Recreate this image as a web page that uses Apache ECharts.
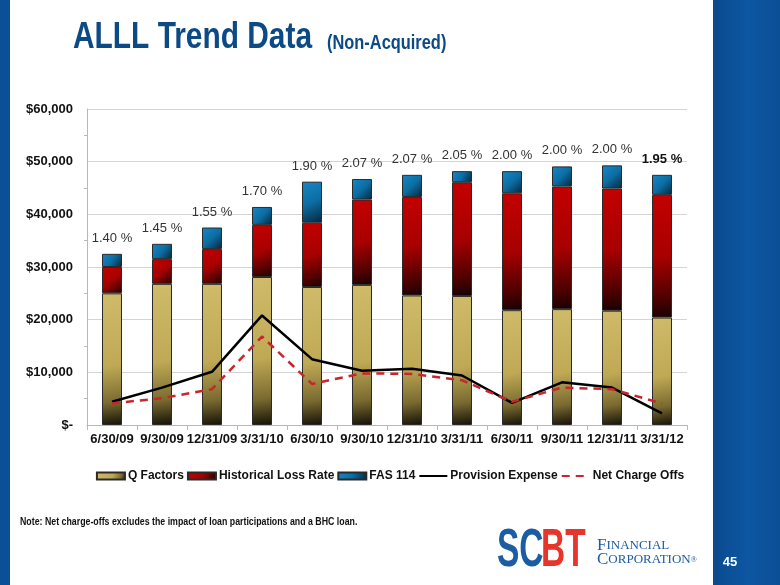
<!DOCTYPE html>
<html>
<head>
<meta charset="utf-8">
<script src="https://cdn.jsdelivr.net/npm/echarts@6/dist/echarts.min.js"></script>
<style>
html,body{margin:0;padding:0;background:#fff;}
#chart{width:780px;height:585px;}
</style>
</head>
<body>
<div id="chart"></div>
<script>
const categories = ['6/30/09','9/30/09','12/31/09','3/31/10','6/30/10','9/30/10','12/31/10','3/31/11','6/30/11','9/30/11','12/31/11','3/31/12'];
const qFactors = [25000, 26800, 26800, 28100, 26200, 26600, 24600, 24500, 21800, 22000, 21700, 20400];
const historicalLossRate = [5000, 4700, 6600, 9900, 12200, 16200, 18700, 21600, 22200, 23300, 23200, 23300];
const fas114 = [2500, 2900, 4100, 3400, 7800, 3900, 4200, 2100, 4200, 3800, 4400, 3800];
const provisionExpense = [4400, 7100, 10100, 20800, 12500, 10300, 10700, 9400, 4200, 8100, 7100, 2200];
const netChargeOffs = [4100, 5100, 6800, 16800, 7800, 9800, 9700, 8500, 4400, 7100, 6800, 4100];
const pctLabels = ['1.40 %','1.45 %','1.55 %','1.70 %','1.90 %','2.07 %','2.07 %','2.05 %','2.00 %','2.00 %','2.00 %','1.95 %'];
const yTickLabels = ['$-','$10,000','$20,000','$30,000','$40,000','$50,000','$60,000'];

const FONT = "'Liberation Sans', Arial, Helvetica, sans-serif";
const chart = echarts.init(document.getElementById('chart'), null, {renderer: 'canvas'});

function grad(stops) {
  return new echarts.graphic.LinearGradient(0, 0, 1, 1, stops.map((c) => ({offset: c[0], color: c[1]})));
}
const goldFill = grad([[0, '#cfbb6a'], [0.55, '#bfa955'], [0.82, '#7a6a30'], [1, '#141006']]);
const redFill = grad([[0, '#c40000'], [0.5, '#a80000'], [0.85, '#4a0000'], [1, '#160000']]);
const blueFill = grad([[0, '#1588c8'], [0.5, '#0d6da3'], [1, '#04263c']]);

const fasData = fas114.map((v, i) => ({
  value: v,
  label: {
    show: true,
    position: 'top',
    distance: 9,
    formatter: pctLabels[i],
    fontFamily: FONT,
    fontSize: 13,
    fontWeight: i === fas114.length - 1 ? 'bold' : 'normal',
    color: i === fas114.length - 1 ? '#111' : '#333'
  }
}));

const option = {
  backgroundColor: '#ffffff',
  animation: false,
  grid: {left: 87, right: 93, top: 109, bottom: 160},
  legend: {
    top: 465,
    left: 'center',
    itemWidth: 28,
    itemHeight: 7,
    itemGap: 3,
    textStyle: {fontFamily: FONT, fontSize: 12, fontWeight: 'bold', color: '#111', padding: [0, 0, 0, -2]},
    data: [
      {name: 'Q Factors', icon: 'rect'},
      {name: 'Historical Loss Rate', icon: 'rect'},
      {name: 'FAS 114', icon: 'rect'},
      {name: 'Provision Expense', itemStyle: {opacity: 0}},
      {name: 'Net Charge Offs', itemStyle: {opacity: 0}}
    ]
  },
  xAxis: {
    type: 'category',
    data: categories,
    boundaryGap: true,
    axisLine: {lineStyle: {color: '#b8b8b8', width: 1}},
    axisTick: {show: true, length: 5, lineStyle: {color: '#b8b8b8'}},
    axisLabel: {fontFamily: FONT, fontSize: 13, fontWeight: 'bold', color: '#111', margin: 8, interval: 0}
  },
  yAxis: {
    type: 'value',
    min: 0,
    max: 60000,
    interval: 10000,
    axisLine: {show: true, lineStyle: {color: '#b8b8b8', width: 1}},
    axisTick: {show: false},
    minorTick: {show: true, splitNumber: 2, length: 3, lineStyle: {color: '#b8b8b8'}},
    splitLine: {lineStyle: {color: '#d4d4d4', width: 1}},
    axisLabel: {
      fontFamily: FONT, fontSize: 13, fontWeight: 'bold', color: '#111', margin: 14,
      formatter: function (v) { return yTickLabels[Math.round(v / 10000)]; }
    }
  },
  series: [
    {
      name: 'Q Factors', type: 'bar', stack: 'alll', barWidth: 20,
      itemStyle: {color: goldFill, borderColor: '#2a2a2a', borderWidth: 1},
      data: qFactors
    },
    {
      name: 'Historical Loss Rate', type: 'bar', stack: 'alll', barWidth: 20,
      itemStyle: {color: redFill, borderColor: '#2a2a2a', borderWidth: 1},
      data: historicalLossRate
    },
    {
      name: 'FAS 114', type: 'bar', stack: 'alll', barWidth: 20,
      itemStyle: {color: blueFill, borderColor: '#2a2a2a', borderWidth: 1},
      data: fasData
    },
    {
      name: 'Provision Expense', type: 'line', symbol: 'none', z: 5,
      lineStyle: {color: '#000', width: 2.5},
      itemStyle: {color: '#000'},
      data: provisionExpense
    },
    {
      name: 'Net Charge Offs', type: 'line', symbol: 'none', z: 6,
      lineStyle: {color: '#c8262c', width: 2.5, type: [8, 6]},
      itemStyle: {color: '#c8262c'},
      data: netChargeOffs
    }
  ],
  graphic: [
    {type: 'rect', left: 0, top: 0, shape: {width: 10, height: 585}, style: {fill: '#0b4f96'}, silent: true, z: -1},
    {type: 'rect', left: 713, top: 0, shape: {width: 67, height: 585},
      style: {fill: new echarts.graphic.LinearGradient(0, 0, 1, 0, [{offset: 0, color: '#0a4a8e'}, {offset: 0.5, color: '#0d56a2'}, {offset: 1, color: '#0b4f96'}])}, silent: true, z: -1},
    {type: 'text', x: 73, y: 38, scaleX: 0.83, style: {text: 'ALLL Trend Data', font: "bold 36px " + FONT, fill: '#0c4a85', textVerticalAlign: 'middle'}},
    {type: 'text', x: 327, y: 43, scaleX: 0.82, style: {text: '(Non-Acquired)', font: "bold 20px " + FONT, fill: '#0c4a85', textVerticalAlign: 'middle'}},
    {type: 'text', x: 20, y: 522, scaleX: 0.8, style: {text: 'Note: Net charge-offs excludes the impact of loan participations and a BHC loan.', font: "bold 11px " + FONT, fill: '#111', textVerticalAlign: 'middle'}},
    {type: 'text', x: 497, y: 551, scaleX: 0.62, style: {text: 'SC', font: "bold 54px " + FONT, fill: '#1b5ca3', textVerticalAlign: 'middle'}},
    {type: 'text', x: 541, y: 551, scaleX: 0.62, style: {text: 'BT', font: "bold 54px " + FONT, fill: '#e8352b', textVerticalAlign: 'middle'}},
    {type: 'text', x: 597, y: 546, style: {
      text: '{a|F}{b|INANCIAL}', textVerticalAlign: 'middle',
      rich: {a: {font: "17px 'Liberation Serif', serif", fill: '#1b5ca3'}, b: {font: "13px 'Liberation Serif', serif", fill: '#1b5ca3'}}
    }},
    {type: 'text', x: 597, y: 560, style: {
      text: '{a|C}{b|ORPORATION}{c|®}', textVerticalAlign: 'middle',
      rich: {a: {font: "17px 'Liberation Serif', serif", fill: '#1b5ca3'}, b: {font: "13px 'Liberation Serif', serif", fill: '#1b5ca3'}, c: {font: "8px 'Liberation Serif', serif", fill: '#1b5ca3'}}
    }},
    {type: 'text', x: 730, y: 562, style: {text: '45', font: "bold 13px " + FONT, fill: '#ffffff', textAlign: 'center', textVerticalAlign: 'middle'}}
  ]
};
chart.setOption(option);
</script>
</body>
</html>
